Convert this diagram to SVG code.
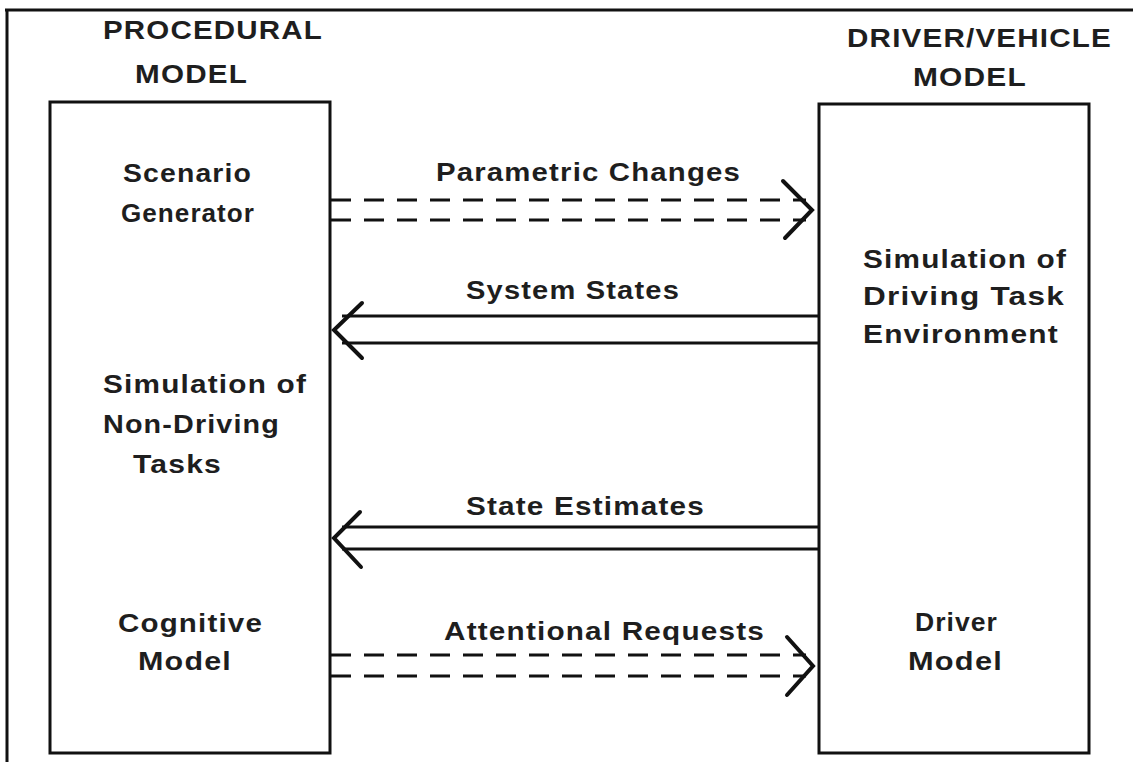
<svg xmlns="http://www.w3.org/2000/svg" width="1133" height="762" viewBox="0 0 1133 762">
  <style>
    .frame { fill: none; stroke: #111; stroke-width: 3; }
    .box { fill: #fff; stroke: #111; stroke-width: 3; }
    .lbl { font-family: "Liberation Sans", Arial, sans-serif; font-weight: bold; font-size: 25px; letter-spacing: 1px; fill: #1e1e1e; }
    .solid { stroke: #111; stroke-width: 3; fill: none; }
    .dash { stroke: #111; stroke-width: 3; fill: none; stroke-dasharray: 20 13; }
    .head { stroke: #111; stroke-width: 4; fill: none; stroke-linecap: round; stroke-linejoin: miter; }
  </style>
  <rect width="1133" height="762" fill="#fff"/>

  <!-- page frame: top and left rules only -->
  <path class="frame" d="M5 10 H1133 M7 10 V762"/>

  <!-- column headings -->
  <g id="procedural-heading">
    <text class="lbl" x="103" y="39" textLength="220" lengthAdjust="spacingAndGlyphs">PROCEDURAL</text>
    <text class="lbl" x="135" y="83" textLength="113" lengthAdjust="spacingAndGlyphs">MODEL</text>
  </g>
  <g id="driver-vehicle-heading">
    <text class="lbl" x="847" y="47" textLength="265" lengthAdjust="spacingAndGlyphs">DRIVER/VEHICLE</text>
    <text class="lbl" x="913" y="86" textLength="114" lengthAdjust="spacingAndGlyphs">MODEL</text>
  </g>

  <!-- procedural model block -->
  <g id="procedural-model">
    <rect class="box" x="50" y="102" width="280" height="651"/>
    <text class="lbl" x="123" y="182" textLength="129" lengthAdjust="spacingAndGlyphs">Scenario</text>
    <text class="lbl" x="121" y="222" textLength="134" lengthAdjust="spacingAndGlyphs">Generator</text>
    <text class="lbl" x="103" y="393" textLength="204" lengthAdjust="spacingAndGlyphs">Simulation of</text>
    <text class="lbl" x="103" y="433" textLength="177" lengthAdjust="spacingAndGlyphs">Non-Driving</text>
    <text class="lbl" x="133" y="473" textLength="89" lengthAdjust="spacingAndGlyphs">Tasks</text>
    <text class="lbl" x="118" y="632" textLength="145" lengthAdjust="spacingAndGlyphs">Cognitive</text>
    <text class="lbl" x="138" y="670" textLength="94" lengthAdjust="spacingAndGlyphs">Model</text>
  </g>

  <!-- driver/vehicle model block -->
  <g id="driver-vehicle-model">
    <rect class="box" x="819" y="104" width="270" height="649"/>
    <text class="lbl" x="863" y="268" textLength="204" lengthAdjust="spacingAndGlyphs">Simulation of</text>
    <text class="lbl" x="863" y="305" textLength="202" lengthAdjust="spacingAndGlyphs">Driving Task</text>
    <text class="lbl" x="863" y="343" textLength="196" lengthAdjust="spacingAndGlyphs">Environment</text>
    <text class="lbl" x="915" y="631" textLength="83" lengthAdjust="spacingAndGlyphs">Driver</text>
    <text class="lbl" x="908" y="670" textLength="95" lengthAdjust="spacingAndGlyphs">Model</text>
  </g>

  <!-- connectors between the two models -->
  <g id="connectors">
    <g id="parametric-changes">
      <path class="dash" d="M331 200 H806 M331 220 H806"/>
      <path class="head" d="M783 181 L812 210 L785 238"/>
      <text class="lbl" x="436" y="181" textLength="305" lengthAdjust="spacingAndGlyphs">Parametric Changes</text>
    </g>
    <g id="system-states">
      <path class="solid" d="M342 316 H819 M342 343 H819"/>
      <path class="head" d="M362 303 L334 330 L362 358"/>
      <text class="lbl" x="466" y="299" textLength="214" lengthAdjust="spacingAndGlyphs">System States</text>
    </g>
    <g id="state-estimates">
      <path class="solid" d="M342 527 H819 M342 549 H819"/>
      <path class="head" d="M360 512 L334 538 L361 567"/>
      <text class="lbl" x="466" y="515" textLength="239" lengthAdjust="spacingAndGlyphs">State Estimates</text>
    </g>
    <g id="attentional-requests">
      <path class="dash" d="M331 655 H806 M331 676 H806"/>
      <path class="head" d="M787 637 L813 666 L787 695"/>
      <text class="lbl" x="444" y="640" textLength="321" lengthAdjust="spacingAndGlyphs">Attentional Requests</text>
    </g>
  </g>
</svg>
